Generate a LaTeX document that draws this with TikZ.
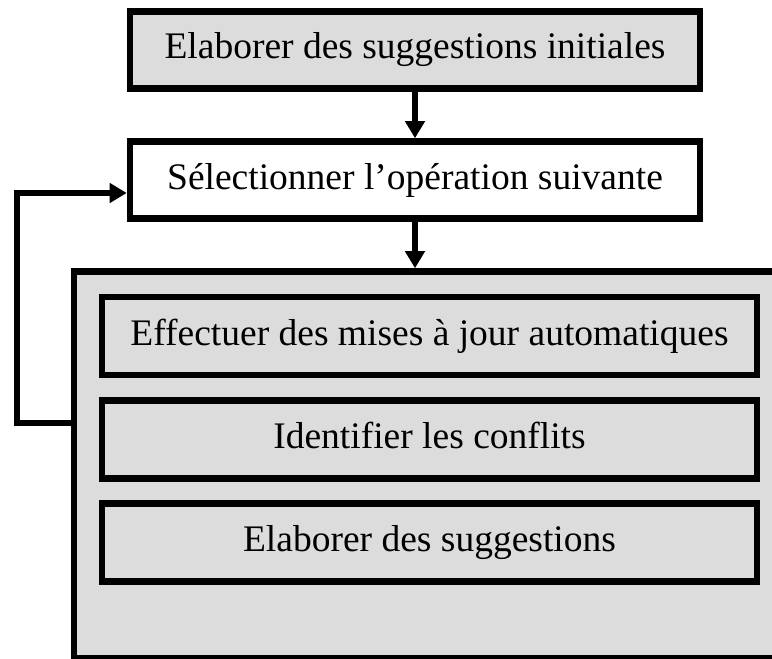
\documentclass[tikz,border=0pt]{standalone}
\usepackage{fontspec}
\setmainfont{Liberation Serif}
\usetikzlibrary{arrows.meta}
\definecolor{boxgray}{RGB}{220,220,220}
\tikzset{
  stepbox/.style={draw=black, line width=6.5bp, rectangle, inner sep=0pt,
    font=\fontsize{37.5bp}{44bp}\selectfont, text height=26bp, text depth=8bp},
  graybox/.style={stepbox, fill=boxgray},
  whitebox/.style={stepbox, fill=white},
  flow/.style={line width=6bp, -{Triangle[width=19bp,length=17bp]}},
}
\begin{document}
\begin{tikzpicture}[x=1bp, y=-1bp]
  \path[use as bounding box] (0,0) rectangle (772,659);
  \clip (0,0) rectangle (772,659);

  % main sequence
  \node[graybox, minimum width=570bp, minimum height=77bp] (init) at (415,50)
    {Elaborer des suggestions initiales};
  \node[whitebox, minimum width=570bp, minimum height=77bp] (sel) at (415,180)
    {Sélectionner l’opération suivante};

  % container for the per-operation steps
  \node[graybox, minimum width=712bp, minimum height=387bp] (proc) at (430,465) {};
  \node[graybox, minimum width=655bp, minimum height=78bp] (maj) at (429.5,336)
    {Effectuer des mises à jour automatiques};
  \node[graybox, minimum width=655bp, minimum height=78bp] (conf) at (429.5,439.5)
    {Identifier les conflits};
  \node[graybox, minimum width=655bp, minimum height=78bp] (sugg) at (429.5,542.5)
    {Elaborer des suggestions};

  % connectors
  \draw[flow] (init.south) -- (sel.north);
  \draw[flow] (sel.south) -- (sel.south |- proc.north);
  \draw[flow] ([yshift=-155bp]proc.north west) -- ++(-54,0)
    |- ([yshift=-13bp]sel.west);
\end{tikzpicture}
\end{document}
